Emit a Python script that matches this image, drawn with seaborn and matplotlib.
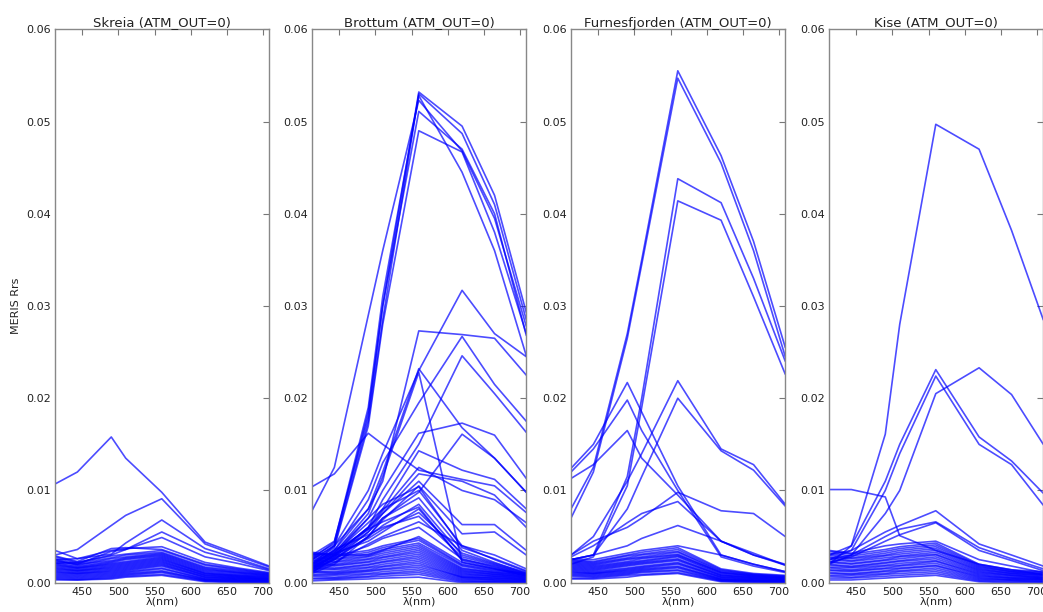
import pandas as pd
import matplotlib.pyplot as plt
import seaborn as sns

# MERIS bands (nm)
wl = [412, 443, 490, 510, 560, 620, 665, 709]

# Rrs spectra, one list per station
skreia = [
    [0.0107, 0.0120, 0.0158, 0.0135, 0.0098, 0.0044, 0.0031, 0.0018],
    [0.0030, 0.0036, 0.0062, 0.0073, 0.0091, 0.0042, 0.0029, 0.0017],
    [0.0025, 0.0026, 0.0031, 0.0043, 0.0068, 0.0037, 0.0026, 0.0015],
    [0.0021, 0.0022, 0.0030, 0.0036, 0.0055, 0.0033, 0.0024, 0.0014],
    [0.0023, 0.0020, 0.0034, 0.0036, 0.0049, 0.0028, 0.0021, 0.0013],
    [0.0035, 0.0026, 0.0035, 0.0037, 0.0039, 0.0022, 0.0016, 0.0011],
    [0.0029, 0.0023, 0.0037, 0.0038, 0.0036, 0.0020, 0.0015, 0.0010],
    [0.0028, 0.0022, 0.0029, 0.0031, 0.0035, 0.0019, 0.0014, 0.0010],
    [0.0026, 0.0021, 0.0027, 0.0030, 0.0033, 0.0017, 0.0013, 0.0009],
    [0.0025, 0.0019, 0.0026, 0.0028, 0.0032, 0.0016, 0.0012, 0.0009],
    [0.0024, 0.0020, 0.0024, 0.0027, 0.0031, 0.0015, 0.0011, 0.0008],
    [0.0022, 0.0018, 0.0023, 0.0026, 0.0030, 0.0014, 0.0011, 0.0008],
    [0.0021, 0.0017, 0.0022, 0.0025, 0.0029, 0.0013, 0.0010, 0.0007],
    [0.0020, 0.0016, 0.0021, 0.0023, 0.0028, 0.0012, 0.0009, 0.0007],
    [0.0019, 0.0016, 0.0020, 0.0022, 0.0027, 0.0011, 0.0008, 0.0006],
    [0.0018, 0.0015, 0.0019, 0.0021, 0.0026, 0.0010, 0.0008, 0.0006],
    [0.0017, 0.0014, 0.0018, 0.0020, 0.0025, 0.0010, 0.0007, 0.0005],
    [0.0016, 0.0013, 0.0017, 0.0019, 0.0024, 0.0009, 0.0007, 0.0005],
    [0.0015, 0.0013, 0.0016, 0.0018, 0.0023, 0.0008, 0.0006, 0.0004],
    [0.0014, 0.0012, 0.0015, 0.0017, 0.0022, 0.0008, 0.0006, 0.0004],
    [0.0013, 0.0011, 0.0014, 0.0016, 0.0021, 0.0007, 0.0005, 0.0004],
    [0.0012, 0.0010, 0.0013, 0.0015, 0.0020, 0.0006, 0.0005, 0.0003],
    [0.0011, 0.0010, 0.0012, 0.0014, 0.0019, 0.0006, 0.0004, 0.0003],
    [0.0010, 0.0009, 0.0011, 0.0013, 0.0018, 0.0005, 0.0004, 0.0003],
    [0.0009, 0.0008, 0.0010, 0.0012, 0.0016, 0.0004, 0.0003, 0.0002],
    [0.0008, 0.0007, 0.0009, 0.0011, 0.0015, 0.0004, 0.0003, 0.0002],
    [0.0007, 0.0006, 0.0008, 0.0010, 0.0013, 0.0003, 0.0002, 0.0002],
    [0.0006, 0.0005, 0.0007, 0.0009, 0.0012, 0.0003, 0.0002, 0.0001],
    [0.0005, 0.0004, 0.0006, 0.0008, 0.0011, 0.0002, 0.0001, 0.0001],
    [0.0004, 0.0003, 0.0005, 0.0007, 0.0009, 0.0002, 0.0001, 0.0000],
    [0.0003, 0.0003, 0.0004, 0.0006, 0.0008, 0.0001, 0.0000, 0.0000],
]

brottum = [
    [0.0030, 0.0045, 0.0180, 0.0300, 0.0532, 0.0495, 0.0420, 0.0293],
    [0.0025, 0.0040, 0.0175, 0.0285, 0.0530, 0.0487, 0.0410, 0.0285],
    [0.0078, 0.0125, 0.0290, 0.0360, 0.0523, 0.0468, 0.0395, 0.0278],
    [0.0028, 0.0042, 0.0185, 0.0300, 0.0511, 0.0470, 0.0400, 0.0268],
    [0.0022, 0.0038, 0.0170, 0.0280, 0.0490, 0.0467, 0.0380, 0.0270],
    [0.0026, 0.0044, 0.0190, 0.0310, 0.0528, 0.0445, 0.0360, 0.0246],
    [0.0104, 0.0118, 0.0162, 0.0150, 0.0122, 0.0112, 0.0105, 0.0076],
    [0.0020, 0.0040, 0.0100, 0.0140, 0.0230, 0.0317, 0.0270, 0.0245],
    [0.0025, 0.0040, 0.0080, 0.0110, 0.0273, 0.0269, 0.0265, 0.0225],
    [0.0020, 0.0035, 0.0090, 0.0130, 0.0195, 0.0267, 0.0215, 0.0175],
    [0.0015, 0.0030, 0.0060, 0.0090, 0.0150, 0.0246, 0.0205, 0.0163],
    [0.0015, 0.0030, 0.0070, 0.0100, 0.0162, 0.0173, 0.0160, 0.0113],
    [0.0018, 0.0035, 0.0080, 0.0120, 0.0232, 0.0168, 0.0135, 0.0098],
    [0.0016, 0.0032, 0.0075, 0.0115, 0.0228, 0.0022, 0.0015, 0.0008],
    [0.0010, 0.0020, 0.0050, 0.0070, 0.0098, 0.0161, 0.0135, 0.0098],
    [0.0015, 0.0030, 0.0060, 0.0080, 0.0143, 0.0122, 0.0112, 0.0080],
    [0.0012, 0.0025, 0.0055, 0.0075, 0.0118, 0.0110, 0.0095, 0.0060],
    [0.0014, 0.0028, 0.0058, 0.0078, 0.0125, 0.0100, 0.0090, 0.0065],
    [0.0016, 0.0030, 0.0060, 0.0075, 0.0110, 0.0063, 0.0063, 0.0035],
    [0.0013, 0.0026, 0.0050, 0.0068, 0.0105, 0.0053, 0.0055, 0.0030],
    [0.0012, 0.0022, 0.0042, 0.0050, 0.0066, 0.0040, 0.0030, 0.0015],
    [0.0020, 0.0032, 0.0065, 0.0080, 0.0100, 0.0040, 0.0025, 0.0012],
    [0.0018, 0.0028, 0.0055, 0.0070, 0.0092, 0.0035, 0.0022, 0.0010],
    [0.0015, 0.0025, 0.0050, 0.0062, 0.0085, 0.0030, 0.0020, 0.0009],
    [0.0017, 0.0033, 0.0070, 0.0085, 0.0104, 0.0038, 0.0026, 0.0013],
    [0.0014, 0.0030, 0.0048, 0.0058, 0.0076, 0.0032, 0.0021, 0.0011],
    [0.0019, 0.0036, 0.0052, 0.0060, 0.0072, 0.0028, 0.0019, 0.0010],
    [0.0011, 0.0027, 0.0040, 0.0048, 0.0060, 0.0026, 0.0017, 0.0009],
    [0.0021, 0.0034, 0.0058, 0.0066, 0.0082, 0.0024, 0.0016, 0.0008],
    [0.0030, 0.0032, 0.0045, 0.0055, 0.0080, 0.0025, 0.0018, 0.0008],
    [0.0032, 0.0030, 0.0030, 0.0035, 0.0050, 0.0022, 0.0015, 0.0008],
    [0.0033, 0.0030, 0.0035, 0.0040, 0.0048, 0.0020, 0.0014, 0.0010],
    [0.0031, 0.0028, 0.0033, 0.0038, 0.0046, 0.0019, 0.0013, 0.0009],
    [0.0029, 0.0026, 0.0031, 0.0036, 0.0043, 0.0018, 0.0012, 0.0009],
    [0.0027, 0.0025, 0.0029, 0.0034, 0.0041, 0.0016, 0.0011, 0.0008],
    [0.0025, 0.0023, 0.0028, 0.0032, 0.0039, 0.0015, 0.0011, 0.0008],
    [0.0024, 0.0022, 0.0026, 0.0030, 0.0037, 0.0014, 0.0010, 0.0007],
    [0.0022, 0.0020, 0.0025, 0.0028, 0.0035, 0.0013, 0.0009, 0.0007],
    [0.0021, 0.0019, 0.0023, 0.0027, 0.0033, 0.0012, 0.0009, 0.0006],
    [0.0019, 0.0018, 0.0022, 0.0025, 0.0031, 0.0011, 0.0008, 0.0006],
    [0.0018, 0.0016, 0.0020, 0.0023, 0.0029, 0.0010, 0.0007, 0.0005],
    [0.0016, 0.0015, 0.0019, 0.0022, 0.0027, 0.0009, 0.0007, 0.0005],
    [0.0015, 0.0014, 0.0017, 0.0020, 0.0025, 0.0008, 0.0006, 0.0004],
    [0.0013, 0.0012, 0.0016, 0.0018, 0.0023, 0.0007, 0.0005, 0.0004],
    [0.0012, 0.0011, 0.0014, 0.0017, 0.0021, 0.0006, 0.0005, 0.0003],
    [0.0011, 0.0010, 0.0013, 0.0015, 0.0019, 0.0006, 0.0004, 0.0003],
    [0.0009, 0.0009, 0.0012, 0.0014, 0.0017, 0.0005, 0.0003, 0.0002],
    [0.0008, 0.0008, 0.0010, 0.0012, 0.0015, 0.0004, 0.0003, 0.0002],
    [0.0007, 0.0006, 0.0009, 0.0010, 0.0013, 0.0003, 0.0002, 0.0001],
    [0.0005, 0.0005, 0.0007, 0.0009, 0.0011, 0.0002, 0.0001, 0.0001],
    [0.0004, 0.0004, 0.0006, 0.0007, 0.0009, 0.0001, 0.0001, 0.0000],
    [0.0002, 0.0003, 0.0004, 0.0005, 0.0006, 0.0000, 0.0000, 0.0000],
]

furnesfjorden = [
    [0.0080, 0.0125, 0.0270, 0.0350, 0.0555, 0.0463, 0.0370, 0.0255],
    [0.0070, 0.0120, 0.0265, 0.0345, 0.0547, 0.0455, 0.0360, 0.0245],
    [0.0025, 0.0030, 0.0115, 0.0200, 0.0438, 0.0412, 0.0330, 0.0240],
    [0.0020, 0.0028, 0.0105, 0.0190, 0.0414, 0.0393, 0.0310, 0.0226],
    [0.0124, 0.0150, 0.0217, 0.0185, 0.0105, 0.0030, 0.0020, 0.0012],
    [0.0120, 0.0145, 0.0198, 0.0165, 0.0100, 0.0028, 0.0018, 0.0011],
    [0.0113, 0.0128, 0.0165, 0.0135, 0.0095, 0.0045, 0.0030, 0.0019],
    [0.0030, 0.0050, 0.0110, 0.0140, 0.0219, 0.0145, 0.0128, 0.0085],
    [0.0025, 0.0030, 0.0080, 0.0115, 0.0200, 0.0143, 0.0122, 0.0083],
    [0.0030, 0.0045, 0.0060, 0.0070, 0.0098, 0.0078, 0.0075, 0.0050],
    [0.0028, 0.0040, 0.0065, 0.0075, 0.0088, 0.0045, 0.0030, 0.0020],
    [0.0025, 0.0030, 0.0040, 0.0048, 0.0062, 0.0045, 0.0032, 0.0019],
    [0.0026, 0.0025, 0.0032, 0.0035, 0.0040, 0.0030, 0.0020, 0.0012],
    [0.0025, 0.0023, 0.0030, 0.0033, 0.0038, 0.0015, 0.0010, 0.0008],
    [0.0024, 0.0022, 0.0029, 0.0031, 0.0036, 0.0014, 0.0009, 0.0007],
    [0.0023, 0.0021, 0.0027, 0.0030, 0.0034, 0.0013, 0.0009, 0.0007],
    [0.0022, 0.0020, 0.0026, 0.0028, 0.0033, 0.0012, 0.0008, 0.0006],
    [0.0021, 0.0019, 0.0025, 0.0027, 0.0031, 0.0011, 0.0008, 0.0006],
    [0.0020, 0.0018, 0.0023, 0.0026, 0.0030, 0.0011, 0.0007, 0.0005],
    [0.0019, 0.0017, 0.0022, 0.0024, 0.0029, 0.0010, 0.0007, 0.0005],
    [0.0018, 0.0016, 0.0021, 0.0023, 0.0028, 0.0009, 0.0006, 0.0005],
    [0.0017, 0.0015, 0.0020, 0.0022, 0.0026, 0.0008, 0.0006, 0.0004],
    [0.0016, 0.0014, 0.0019, 0.0021, 0.0025, 0.0008, 0.0005, 0.0004],
    [0.0015, 0.0013, 0.0018, 0.0020, 0.0024, 0.0007, 0.0005, 0.0003],
    [0.0014, 0.0012, 0.0016, 0.0018, 0.0022, 0.0006, 0.0004, 0.0003],
    [0.0013, 0.0011, 0.0015, 0.0017, 0.0021, 0.0006, 0.0004, 0.0003],
    [0.0012, 0.0010, 0.0014, 0.0016, 0.0020, 0.0005, 0.0003, 0.0002],
    [0.0011, 0.0010, 0.0013, 0.0015, 0.0018, 0.0004, 0.0003, 0.0002],
    [0.0010, 0.0009, 0.0012, 0.0014, 0.0017, 0.0004, 0.0002, 0.0002],
    [0.0009, 0.0008, 0.0011, 0.0013, 0.0016, 0.0003, 0.0002, 0.0001],
    [0.0008, 0.0007, 0.0010, 0.0012, 0.0014, 0.0003, 0.0002, 0.0001],
    [0.0007, 0.0006, 0.0009, 0.0011, 0.0013, 0.0002, 0.0001, 0.0001],
    [0.0005, 0.0005, 0.0008, 0.0009, 0.0011, 0.0002, 0.0001, 0.0000],
    [0.0004, 0.0004, 0.0006, 0.0008, 0.0010, 0.0001, 0.0000, 0.0000],
]

kise = [
    [0.0020, 0.0040, 0.0161, 0.0280, 0.0497, 0.0470, 0.0382, 0.0285],
    [0.0101, 0.0101, 0.0093, 0.0051, 0.0035, 0.0020, 0.0014, 0.0009],
    [0.0030, 0.0040, 0.0110, 0.0150, 0.0231, 0.0158, 0.0132, 0.0097],
    [0.0025, 0.0035, 0.0100, 0.0140, 0.0224, 0.0150, 0.0128, 0.0084],
    [0.0020, 0.0030, 0.0075, 0.0100, 0.0205, 0.0233, 0.0204, 0.0150],
    [0.0030, 0.0035, 0.0055, 0.0062, 0.0078, 0.0042, 0.0030, 0.0018],
    [0.0025, 0.0030, 0.0050, 0.0058, 0.0066, 0.0038, 0.0026, 0.0015],
    [0.0022, 0.0028, 0.0045, 0.0052, 0.0065, 0.0035, 0.0024, 0.0013],
    [0.0035, 0.0032, 0.0040, 0.0042, 0.0045, 0.0025, 0.0018, 0.0011],
    [0.0034, 0.0031, 0.0036, 0.0039, 0.0043, 0.0020, 0.0014, 0.0012],
    [0.0032, 0.0029, 0.0034, 0.0037, 0.0041, 0.0019, 0.0013, 0.0011],
    [0.0030, 0.0027, 0.0032, 0.0035, 0.0039, 0.0018, 0.0012, 0.0010],
    [0.0028, 0.0026, 0.0030, 0.0033, 0.0037, 0.0017, 0.0012, 0.0009],
    [0.0027, 0.0024, 0.0029, 0.0031, 0.0035, 0.0016, 0.0011, 0.0009],
    [0.0025, 0.0023, 0.0027, 0.0029, 0.0033, 0.0015, 0.0010, 0.0008],
    [0.0023, 0.0021, 0.0025, 0.0028, 0.0031, 0.0014, 0.0010, 0.0008],
    [0.0022, 0.0020, 0.0024, 0.0026, 0.0030, 0.0013, 0.0009, 0.0007],
    [0.0020, 0.0018, 0.0022, 0.0024, 0.0028, 0.0012, 0.0008, 0.0006],
    [0.0019, 0.0017, 0.0021, 0.0023, 0.0026, 0.0011, 0.0008, 0.0006],
    [0.0017, 0.0016, 0.0019, 0.0021, 0.0024, 0.0010, 0.0007, 0.0005],
    [0.0016, 0.0014, 0.0018, 0.0019, 0.0023, 0.0009, 0.0006, 0.0005],
    [0.0014, 0.0013, 0.0016, 0.0018, 0.0021, 0.0008, 0.0005, 0.0004],
    [0.0013, 0.0012, 0.0015, 0.0016, 0.0019, 0.0007, 0.0005, 0.0004],
    [0.0011, 0.0010, 0.0013, 0.0015, 0.0018, 0.0006, 0.0004, 0.0003],
    [0.0010, 0.0009, 0.0012, 0.0013, 0.0016, 0.0005, 0.0003, 0.0003],
    [0.0008, 0.0008, 0.0010, 0.0012, 0.0014, 0.0004, 0.0003, 0.0002],
    [0.0007, 0.0006, 0.0009, 0.0010, 0.0012, 0.0003, 0.0002, 0.0001],
    [0.0005, 0.0005, 0.0007, 0.0008, 0.0010, 0.0002, 0.0001, 0.0001],
    [0.0003, 0.0003, 0.0005, 0.0006, 0.0008, 0.0001, 0.0000, 0.0000],
]

stations = ['Skreia', 'Brottum', 'Furnesfjorden', 'Kise']
spectra = [skreia, brottum, furnesfjorden, kise]
xticks = [450, 500, 550, 600, 650, 700]
yticks = [0.00, 0.01, 0.02, 0.03, 0.04, 0.05, 0.06]

sns.set_style('white')
plt.rcParams['font.family'] = ['DejaVu Sans']

fig = plt.figure(figsize=(10.43, 6.12), dpi=100)
W, H = 1043, 612
lefts = [55, 312, 571, 829]

for i, (name, lines) in enumerate(zip(stations, spectra)):
    ax = fig.add_axes([lefts[i] / W, 29.3 / H, 214.3 / W, 553.4 / H])
    rows = []
    for k, vals in enumerate(lines):
        for x, y in zip(wl, vals):
            rows.append({'wl': x, 'rrs': y, 'id': k})
    df = pd.DataFrame(rows)
    sns.lineplot(data=df, x='wl', y='rrs', units='id', estimator=None,
                 color='blue', alpha=0.7, lw=1.2, ax=ax, legend=False)
    ax.set_xlim(wl[0], wl[-1])
    ax.set_ylim(0, 0.06)
    ax.set_xticks(xticks)
    ax.set_yticks(yticks)
    ax.set_yticklabels(['%.2f' % v for v in yticks])
    ax.tick_params(direction='in', top=True, right=True, length=4,
                   width=0.8, color='#777777', labelsize=8, pad=3,
                   labelcolor='#222222')
    for s in ax.spines.values():
        s.set_visible(True)
        s.set_color('#888888')
        s.set_linewidth(1.0)
    ax.set_title(f'{name} (ATM_OUT=0)', fontsize=9.5, pad=2, color='#222222')
    ax.set_xlabel('λ(nm)', fontsize=8, labelpad=0, color='#222222')
    ax.set_ylabel('MERIS Rrs' if i == 0 else '', fontsize=8, color='#222222')

fig.savefig('out.png', dpi=100)
